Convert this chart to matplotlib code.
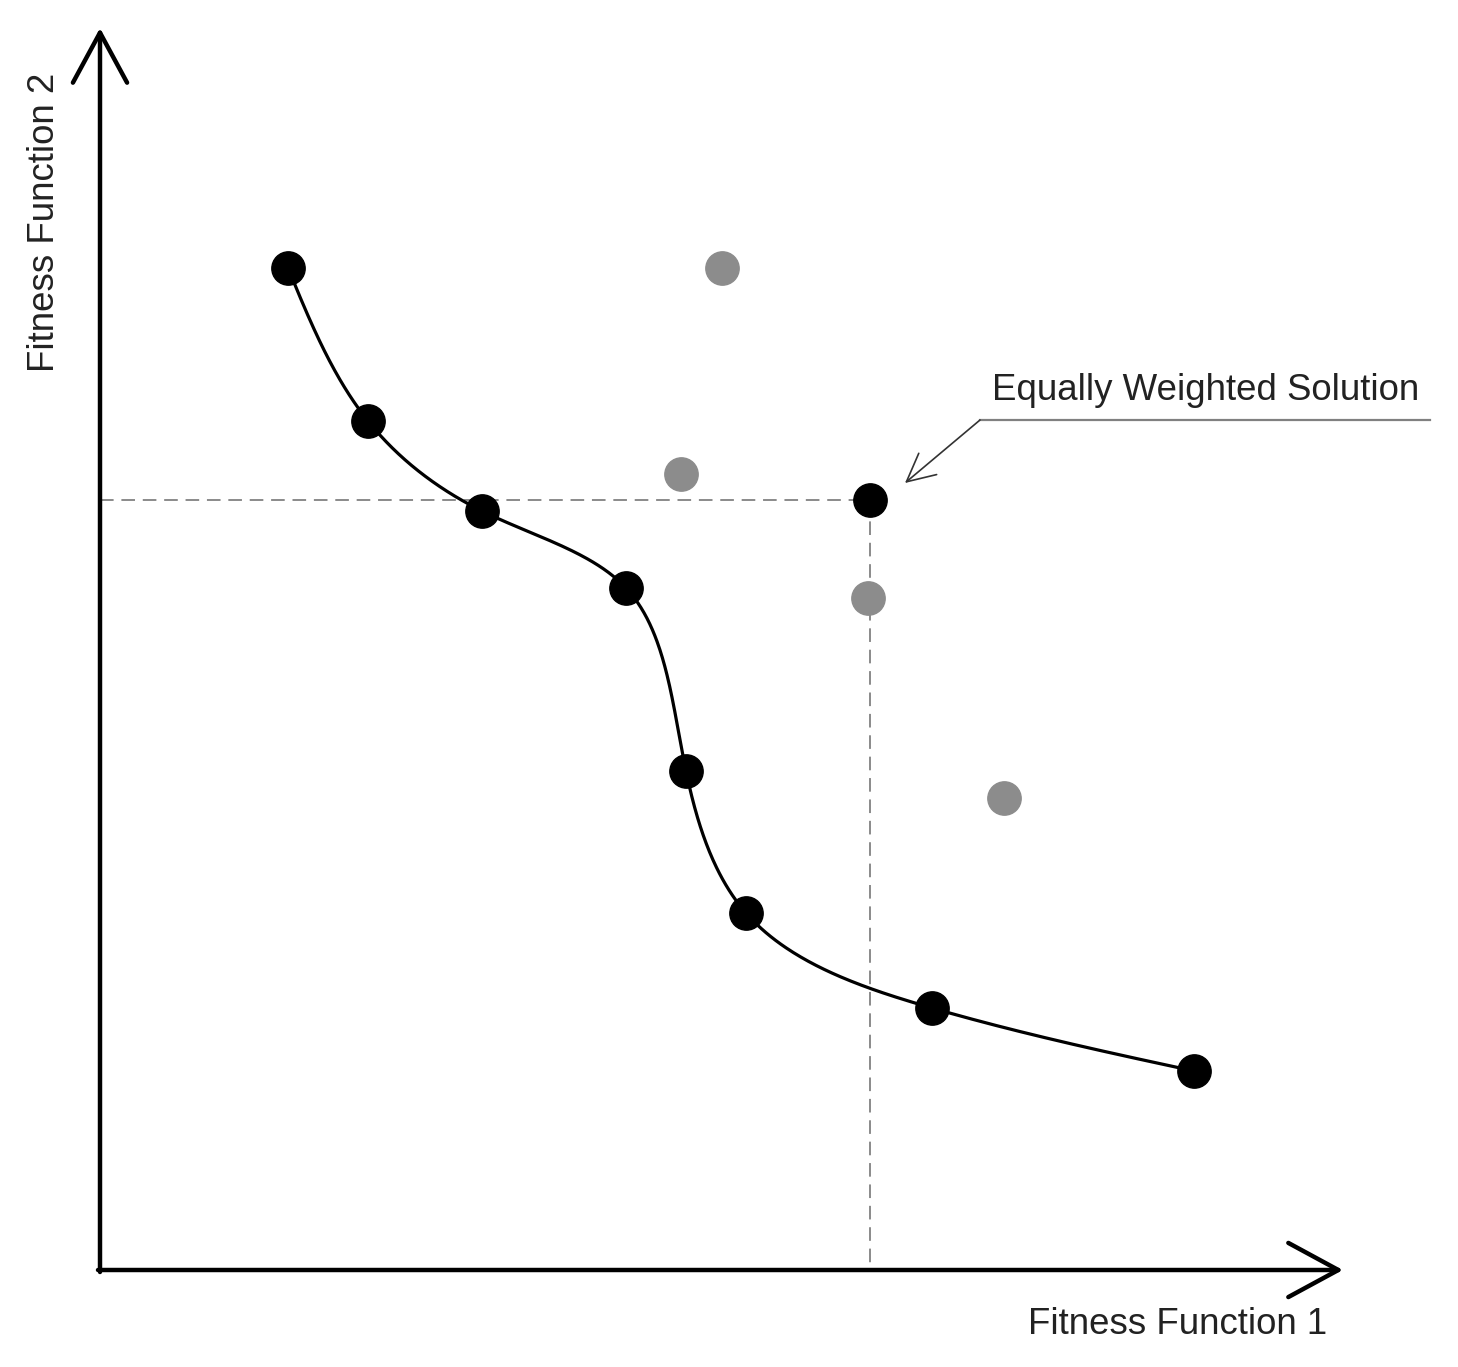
import numpy as np
import matplotlib.pyplot as plt

plt.rcParams['font.family'] = ['Liberation Sans', 'DejaVu Sans']

# Pareto front (non-dominated solutions), in arbitrary fitness units
front_f1 = [188, 268, 382, 526, 586, 646, 832, 1094]
front_f2 = [1002, 849, 759, 682, 499, 357, 262, 199]

# dominated solutions
other_f1 = [622, 581, 768, 904]
other_f2 = [1002, 796, 672, 472]

# equally weighted solution
eq_f1, eq_f2 = 770, 770


def natural_spline(t, y, tt):
    # natural cubic spline through (t, y), evaluated at tt
    t = np.asarray(t, float)
    y = np.asarray(y, float)
    n = len(t)
    h = np.diff(t)
    A = np.zeros((n, n))
    b = np.zeros(n)
    A[0, 0] = A[-1, -1] = 1
    for i in range(1, n - 1):
        A[i, i - 1] = h[i - 1]
        A[i, i] = 2 * (h[i - 1] + h[i])
        A[i, i + 1] = h[i]
        b[i] = 6 * ((y[i + 1] - y[i]) / h[i] - (y[i] - y[i - 1]) / h[i - 1])
    M = np.linalg.solve(A, b)
    k = np.clip(np.searchsorted(t, tt) - 1, 0, n - 2)
    d = tt - t[k]
    hk = h[k]
    a = (M[k + 1] - M[k]) / (6 * hk)
    c = (y[k + 1] - y[k]) / hk - hk * (2 * M[k] + M[k + 1]) / 6
    return y[k] + c * d + M[k] / 2 * d ** 2 + a * d ** 3


def smooth_curve(xs, ys, n=600):
    xs = np.asarray(xs, float)
    ys = np.asarray(ys, float)
    t = np.concatenate([[0], np.cumsum(np.hypot(np.diff(xs), np.diff(ys)))])
    tt = np.linspace(0, t[-1], n)
    return natural_spline(t, xs, tt), natural_spline(t, ys, tt)


fig = plt.figure(figsize=(14.58, 13.67), dpi=100)
ax = fig.add_axes([0, 0, 1, 1])
ax.set_xlim(-100, 1358)
ax.set_ylim(-97, 1270)
ax.axis('off')

# axes with open arrow heads
arrow = dict(arrowstyle='->,head_length=36,head_width=19.5', mutation_scale=1,
             lw=3.2, color='black', shrinkA=0, shrinkB=0)
ax.annotate('', xy=(0, 1242), xytext=(0, -2), arrowprops=arrow)
ax.annotate('', xy=(1243, 0), xytext=(-2, 0), arrowprops=arrow)

# dashed guide lines to the equally weighted solution
ax.plot([0, eq_f1], [eq_f2, eq_f2], ls=(0, (7, 4)), color='#8a8a8a', lw=1.4)
ax.plot([eq_f1, eq_f1], [eq_f2, 0], ls=(0, (7, 4)), color='#8a8a8a', lw=1.4)

cx, cy = smooth_curve(front_f1, front_f2)
ax.plot(cx, cy, color='black', lw=2.3)
ax.plot(front_f1, front_f2, 'o', color='black', ms=24)
ax.plot(other_f1, other_f2, 'o', color='#8c8c8c', ms=24)
ax.plot([eq_f1], [eq_f2], 'o', color='black', ms=24)

# callout
ax.plot([880, 1330], [850, 850], color='#808080', lw=1.6)
ax.annotate('', xy=(805, 787), xytext=(880, 850),
            arrowprops=dict(arrowstyle='->,head_length=20,head_width=10',
                            mutation_scale=1, lw=1.2, color='#333333',
                            shrinkA=0, shrinkB=0))
ax.text(892, 880, 'Equally Weighted Solution', fontsize=26.4, color='#222222',
        va='center', ha='left')

ax.text(1078, -55, 'Fitness Function 1', fontsize=26.4, color='#222222',
        ha='center', va='center')
ax.text(-55, 1048, 'Fitness Function 2', fontsize=26.4, color='#222222',
        ha='center', va='center', rotation=90)

fig.savefig('out.png', dpi=100)
